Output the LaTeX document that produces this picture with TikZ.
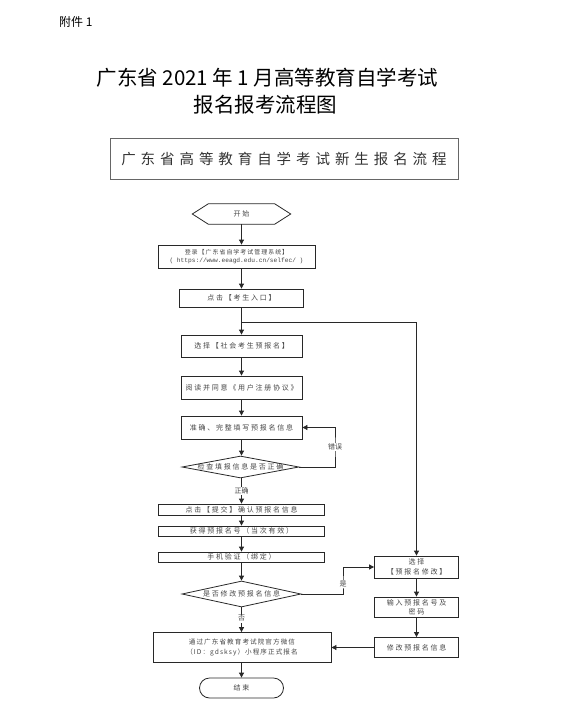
\documentclass[tikz,border=0pt]{standalone}
\usepackage{fontspec}
\setmainfont{Liberation Serif}
\setmonofont{Liberation Mono}
\newfontfamily\cjk{Noto Sans CJK SC}
\newfontfamily\cjkwide{Noto Sans CJK SC}[LetterSpace=34]
\newfontfamily\cjksp{Noto Sans CJK SC}[LetterSpace=25]
\newfontfamily\cjksm{Noto Sans CJK SC}[LetterSpace=16]
\usetikzlibrary{arrows.meta,shapes.geometric,calc}
\definecolor{linec}{RGB}{40,40,40}
\definecolor{textc}{RGB}{70,70,70}
\tikzset{
  box/.style={draw=linec, line width=0.8pt, inner sep=0pt, align=center,
    font=\fontsize{7}{9}\cjksp, text=textc},
  dia/.style={draw=linec, line width=0.8pt, shape=diamond, inner sep=0pt},
  diatext/.style={font=\fontsize{7}{9}\cjksp, text=textc},
  arr/.style={draw=linec, line width=0.8pt, -{Triangle[length=5pt,width=5pt]}},
  ln/.style={draw=linec, line width=0.8pt},
  lab/.style={font=\fontsize{7}{9}\cjk, text=textc, fill=white, inner sep=1pt}
}
\begin{document}
\begin{tikzpicture}[x=1pt,y=-1pt]
\useasboundingbox (0,0) rectangle (567,714);
\fill[white] (0,0) rectangle (567,714);
% header
\node[anchor=west, font=\fontsize{12}{14}\cjk, inner sep=0pt] (fj) at (59,22) {附件 1};
\node[font=\fontsize{20.5}{24}\cjk, inner sep=0pt] (t1) at (267.5,78) {广东省 2021 年 1 月高等教育自学考试};
\node[font=\fontsize{20.5}{24}\cjk, inner sep=0pt] (t2) at (265.5,105) {报名报考流程图};
\node[draw=black!60, line width=0.8pt, minimum width=348pt, minimum height=41pt, inner sep=0pt,
  font=\fontsize{14.5}{16}\cjkwide, text=black!80] (tb) at (284,158.5) {广东省高等教育自学考试新生报名流程};
% start hexagon
\node[minimum width=98pt, minimum height=20pt, inner sep=0pt, font=\fontsize{7}{9}\cjksp, text=textc] (start) at (241.5,214) {开始};
\draw[ln] (start.west) -- ([xshift=16pt]start.north west) -- ([xshift=-16pt]start.north east) -- (start.east)
  -- ([xshift=-16pt]start.south east) -- ([xshift=16pt]start.south west) -- cycle;
% left column
\node[box, minimum width=157pt, minimum height=23pt, font=\fontsize{6}{8}\cjksm] (login) at (236.5,256.5)
  {登录【广东省自学考试管理系统】\\{\fontsize{6.2}{8}\ttfamily ( https://www.eeagd.edu.cn/selfec/ )}};
\node[box, minimum width=124pt, minimum height=18pt] (kaosheng) at (241.5,298) {点击【考生入口】};
\node[box, minimum width=121pt, minimum height=22pt] (shehui) at (241.5,346) {选择【社会考生预报名】};
\node[box, minimum width=121pt, minimum height=23pt] (yuedu) at (241.5,387.5) {阅读并同意《用户注册协议》};
\node[box, minimum width=121pt, minimum height=23pt] (zhunque) at (241.5,427.5) {准确、完整填写预报名信息};
\node[dia, minimum width=117pt, minimum height=22pt, label={[diatext]center:检查填报信息是否正确}] (check) at (240.5,467) {};
\node[box, minimum width=166pt, minimum height=11pt] (tijiao) at (241.5,509.5) {点击【提交】确认预报名信息};
\node[box, minimum width=166pt, minimum height=10pt] (huode) at (241.5,531) {获得预报名号（当次有效）};
\node[box, minimum width=166pt, minimum height=10pt] (shouji) at (241.5,557) {手机验证（绑定）};
\node[dia, minimum width=119pt, minimum height=26pt, label={[diatext]center:是否修改预报名信息}] (modify) at (241.5,594) {};
\node[box, minimum width=178pt, minimum height=30pt, font=\fontsize{6.6}{10}\cjksm] (tongguo) at (242,647.5)
  {通过广东省教育考试院官方微信\\（ID：gdsksy）小程序正式报名};
\node[box, minimum width=84pt, minimum height=20pt, rounded corners=10pt] (end) at (241.5,688) {结束};
% right column
\node[box, minimum width=84pt, minimum height=22pt, font=\fontsize{7}{10}\cjksp] (xuanze) at (416.5,567) {选择\\【预报名修改】};
\node[box, minimum width=84pt, minimum height=20pt, font=\fontsize{7}{9}\cjksp] (shuru) at (416.5,607) {输入预报名号及\\密码};
\node[box, minimum width=84pt, minimum height=20pt] (xiugai) at (416.5,647.5) {修改预报名信息};
% coordinates
\coordinate (br) at (241.5,322);
\coordinate (errx) at (335,447);
\coordinate (yesx) at (343,584);
% connectors
\draw[arr] (start.south) -- (start.south |- login.north);
\draw[arr] (start.south |- login.south) -- (kaosheng.north);
\draw[arr] (kaosheng.south) -- (shehui.north);
\draw[arr] (br) -| (xuanze.north);
\draw[arr] (shehui.south) -- (yuedu.north);
\draw[arr] (yuedu.south) -- (zhunque.north);
\draw[arr] (zhunque.south) -- (zhunque.south |- check.north);
\draw[arr] (check.east) -| (errx) |- (zhunque.east);
\node[lab] at (errx) {错误};
\draw[arr] (check.south -| tijiao.north) -- node[lab] {正确} (tijiao.north);
\draw[arr] (tijiao.south) -- (huode.north);
\draw[arr] (huode.south) -- (shouji.north);
\draw[arr] (shouji.south) -- (modify.north);
\draw[arr] (modify.south) -- node[lab, pos=0.45] {否} (modify.south |- tongguo.north);
\draw[arr] (modify.east) -| (yesx) |- (xuanze.west);
\node[lab] at (yesx) {是};
\draw[arr] (xuanze.south) -- (shuru.north);
\draw[arr] (shuru.south) -- (xiugai.north);
\draw[arr] (xiugai.west) -- (xiugai.west -| tongguo.east);
\draw[arr] (modify.south |- tongguo.south) -- (end.north);
\end{tikzpicture}
\end{document}
